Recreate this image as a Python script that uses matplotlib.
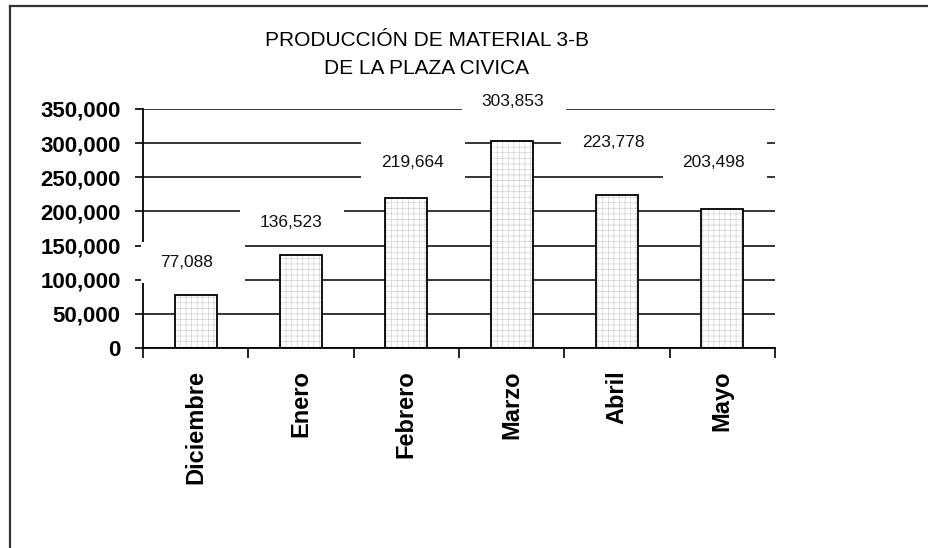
import matplotlib
matplotlib.use("Agg")
import matplotlib.pyplot as plt
import matplotlib.transforms as mtransforms
from matplotlib.patches import Rectangle
from matplotlib.lines import Line2D
from matplotlib.ticker import FuncFormatter, FixedLocator

plt.rcParams['font.family'] = ['Liberation Sans', 'DejaVu Sans']
plt.rcParams['hatch.linewidth'] = 0.5

# ---- data ----
months = ["Diciembre", "Enero", "Febrero", "Marzo", "Abril", "Mayo"]
production = [77088, 136523, 219664, 303853, 223778, 203498]
title_lines = ["PRODUCCIÓN DE MATERIAL 3-B", "DE LA PLAZA CIVICA"]
y_ticks = [0, 50000, 100000, 150000, 200000, 250000, 300000, 350000]

# ---- layout (pixel offsets of value labels / their boxes from the bar top) ----
label_dx = [-9, -10, 6, 1, -4, -9]
label_dy = [33, 32, 36, 39, 53, 47]
box_dx = [-3, -9, 7, 2, -4, -7]
box_w, box_h = 104, 41

W, H, DPI = 929, 548, 100
fig = plt.figure(figsize=(W / DPI, H / DPI), dpi=DPI)
fig.patch.set_facecolor('white')

ax = fig.add_axes([143 / W, 1 - 348 / H, (775 - 143) / W, (348 - 109) / H])
x = list(range(len(months)))

# bars: hatch fill then black outline
ax.bar(x, production, width=0.4, color='white', edgecolor='#d2d2d2',
       hatch='+++', linewidth=0, zorder=2)
ax.bar(x, production, width=0.4, fill=False, edgecolor='black',
       linewidth=1.3, zorder=2.2)

ax.set_xlim(-0.5, len(months) - 0.5)
ax.set_ylim(y_ticks[0], y_ticks[-1])
ax.set_yticks(y_ticks)
ax.yaxis.set_major_formatter(FuncFormatter(lambda v, p: f"{int(v):,}"))
ax.set_axisbelow(True)
ax.yaxis.grid(True, color='black', linewidth=1.1)
ax.xaxis.grid(False)

for s in ['top', 'right']:
    ax.spines[s].set_visible(False)
for s in ['left', 'bottom']:
    ax.spines[s].set_color('black')
    ax.spines[s].set_linewidth(1.3)

ax.set_xticks(x)
ax.set_xticklabels(months, rotation=90, fontsize=17, fontweight='bold')
ax.xaxis.set_minor_locator(FixedLocator([i - 0.5 for i in range(len(months) + 1)]))
ax.tick_params(axis='x', which='major', length=0, pad=16)
ax.tick_params(axis='x', which='minor', length=7, width=1.2, direction='out', color='black')
ax.tick_params(axis='y', which='major', length=6, width=1.2, direction='out',
               labelsize=16, pad=10, color='black')
for t in ax.get_yticklabels():
    t.set_fontweight('bold')

# value labels with white boxes
for i, v in enumerate(production):
    tr = mtransforms.ScaledTranslation(i, v, ax.transData)
    rect = Rectangle((box_dx[i] - box_w / 2, label_dy[i] - box_h / 2), box_w, box_h,
                     transform=tr, facecolor='white', edgecolor='none',
                     zorder=3, clip_on=False)
    ax.add_patch(rect)
    ax.annotate(f"{v:,}", xy=(i, v), xytext=(label_dx[i], label_dy[i]),
                textcoords='offset pixels', ha='center', va='center',
                fontsize=12.5, color='#111111', zorder=5, annotation_clip=False)

# title
fig.text(427 / W, 1 - 46 / H, title_lines[0], ha='center', va='baseline', fontsize=15)
fig.text(427 / W, 1 - 74 / H, title_lines[1], ha='center', va='baseline', fontsize=15)

# frame (top and left edges)
fig.add_artist(Line2D([10.5 / W, 1], [1 - 5.5 / H, 1 - 5.5 / H], transform=fig.transFigure,
                      color='#333333', linewidth=1.6))
fig.add_artist(Line2D([10.5 / W, 10.5 / W], [0, 1 - 5.5 / H], transform=fig.transFigure,
                      color='#333333', linewidth=1.6))

fig.savefig("out.png", dpi=DPI, facecolor='white')
